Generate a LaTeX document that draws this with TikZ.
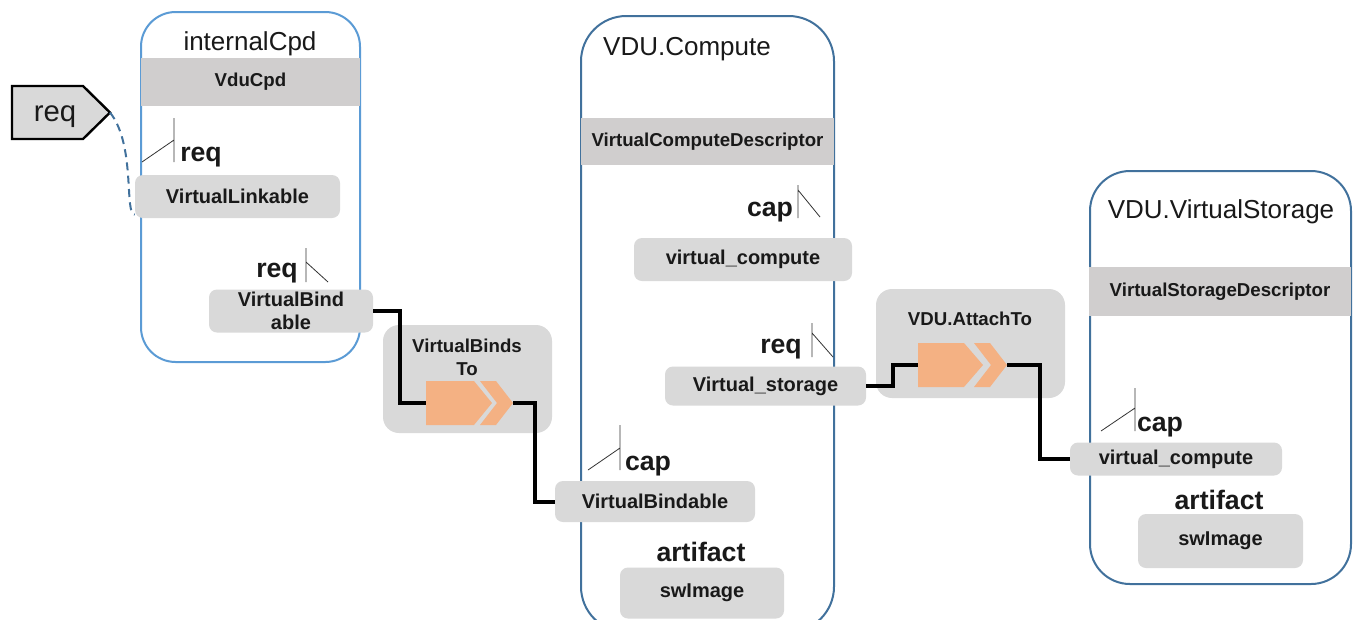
\documentclass[tikz,border=0pt]{standalone}
\usepackage{fontspec}
\setmainfont{Liberation Sans}
\definecolor{lightblue}{RGB}{91,155,213}
\definecolor{darkblue}{RGB}{65,113,156}
\definecolor{bandgray}{RGB}{208,206,206}
\definecolor{boxgray}{RGB}{217,217,217}
\definecolor{arroworange}{RGB}{244,177,131}
\begin{document}
\begin{tikzpicture}[x=0.75pt, y=-0.75pt]
    \tikzstyle{every node}=[inner sep=0pt, text=black!90]
    \tikzstyle{cont}=[draw=darkblue, line width=1.5pt, fill=white]
    \tikzstyle{title}=[font=\fontsize{19.5}{22}\selectfont]
    \tikzstyle{band}=[fill=bandgray, font=\fontsize{14}{16}\selectfont\bfseries]
    \tikzstyle{box}=[fill=boxgray, rounded corners=6pt, font=\fontsize{15}{17}\selectfont\bfseries, align=center]
    \tikzstyle{relbox}=[fill=boxgray, rounded corners=12pt]
    \tikzstyle{rellabel}=[font=\fontsize{14}{17}\selectfont\bfseries, align=center]
    \tikzstyle{lbl}=[font=\fontsize{20}{22}\selectfont\bfseries]
    \tikzstyle{tick}=[black!80, line width=0.6pt]
    \tikzstyle{link}=[black, line width=3pt]
    \useasboundingbox (0,0) rectangle (1356,619);

    % containers
    \draw[cont, draw=lightblue, rounded corners=26pt] (141,12) rectangle (360,362);
    \draw[cont, rounded corners=34pt] (581,16) rectangle (834,632);
    \draw[cont, rounded corners=30pt] (1090,171) rectangle (1351,584);

    \node[title] (cpdT) at (250,44) {internalCpd};
    \node[title] (compT) at (687,49) {VDU.Compute};
    \node[title] (storT) at (1221,212) {VDU.VirtualStorage};

    \node[band, minimum width=164.25pt, minimum height=36pt] (vducpd) at (250.5,82) {VduCpd};
    \node[band, minimum width=189.75pt, minimum height=35.25pt] (vcd) at (707.5,141.5) {VirtualComputeDescriptor};
    \node[band, minimum width=196.5pt, minimum height=36.75pt] (vsd) at (1220,291.5) {VirtualStorageDescriptor};

    % requirement / capability boxes
    \node[box, minimum width=153.75pt, minimum height=32.25pt] (vlink) at (237.5,196.5) {VirtualLinkable};
    \node[box, minimum width=123pt, minimum height=32.25pt] (vbind1) at (291,311) {VirtualBind\\able};
    \node[box, minimum width=163.5pt, minimum height=32.25pt] (vcomp1) at (743,259.5) {virtual\_compute};
    \node[box, minimum width=150.75pt, minimum height=29.25pt] (vstor) at (765.5,386) {Virtual\_storage};
    \node[box, minimum width=150pt, minimum height=30.75pt] (vbind2) at (655,501.5) {VirtualBindable};
    \node[box, minimum width=123pt, minimum height=38.25pt] (swimg1) at (702,593) {swImage};
    \node[box, minimum width=159pt, minimum height=24.75pt] (vcomp2) at (1176,459) {virtual\_compute};
    \node[box, minimum width=123.75pt, minimum height=40.5pt] (swimg2) at (1220.5,541) {swImage};

    \node[lbl] (req1) at (201,157) {req};
    \node[lbl] (req2) at (277,273) {req};
    \node[lbl] (cap1) at (770,212) {cap};
    \node[lbl] (req3) at (781,349) {req};
    \node[lbl] (cap2) at (648,466) {cap};
    \node[lbl] (art1) at (701,552) {artifact};
    \node[lbl] (cap3) at (1160,427) {cap};
    \node[lbl] (art2) at (1219,500) {artifact};

    \draw[tick] (174,118) -- (174,162) (174,140) -- (142,162);
    \draw[tick] (306,248) -- (306,282) (306,262) -- (328,282);
    \draw[tick] (798,185) -- (798,218) (798,190) -- (820,217);
    \draw[tick] (812,323) -- (812,357) (812,333) -- (833,357);
    \draw[tick] (620,425) -- (620,470) (620,448) -- (588,470);
    \draw[tick] (1135,388) -- (1135,431) (1135,408) -- (1101,431);

    % relationships
    \node[relbox, minimum width=126.75pt, minimum height=81pt] (binds) at (467.5,379) {};
    \node[rellabel] (bindsT) at (467,357) {VirtualBinds\\To};
    \fill[arroworange] (426,381) -- (474,381) -- (492,403) -- (474,425) -- (426,425) -- cycle;
    \fill[arroworange] (480,381) -- (496,381) -- (513,403) -- (496,425) -- (480,425) -- (497,403) -- cycle;
    \coordinate (bindsIn) at (426,403);
    \coordinate (bindsOut) at (513,403);

    \node[relbox, minimum width=141.75pt, minimum height=81.75pt] (attach) at (970.5,343.5) {};
    \node[rellabel] (attachT) at (970,319) {VDU.AttachTo};
    \fill[arroworange] (918,343) -- (964,343) -- (983,365) -- (964,387) -- (918,387) -- cycle;
    \fill[arroworange] (974,343) -- (990,343) -- (1007,365) -- (990,387) -- (974,387) -- (991,365) -- cycle;
    \coordinate (attIn) at (918,365);
    \coordinate (attOut) at (1007,365);

    \draw[link] (vbind1.east) -- ++(27,0) |- (bindsIn);
    \draw[link] (bindsOut) -- ++(22,0) |- (vbind2.west);
    \draw[link] (vstor.east) -- ++(27,0) |- (attIn);
    \draw[link] (attOut) -- ++(33,0) |- (vcomp2.west);

    % external requirement
    \draw[fill=boxgray, line width=1.8pt, line join=miter] (12,86) -- (83,86) -- (110,112.5) -- (83,139) -- (12,139) -- cycle;
    \node[font=\fontsize{22}{24}\selectfont] (reqP) at (55,117) {req};
    \coordinate (reqTip) at (110,112.5);
    \draw[darkblue, line width=1.5pt, dash pattern=on 6pt off 4pt] (reqTip) .. controls (136,145) and (124,215) .. (vlink.190);
\end{tikzpicture}
\end{document}
